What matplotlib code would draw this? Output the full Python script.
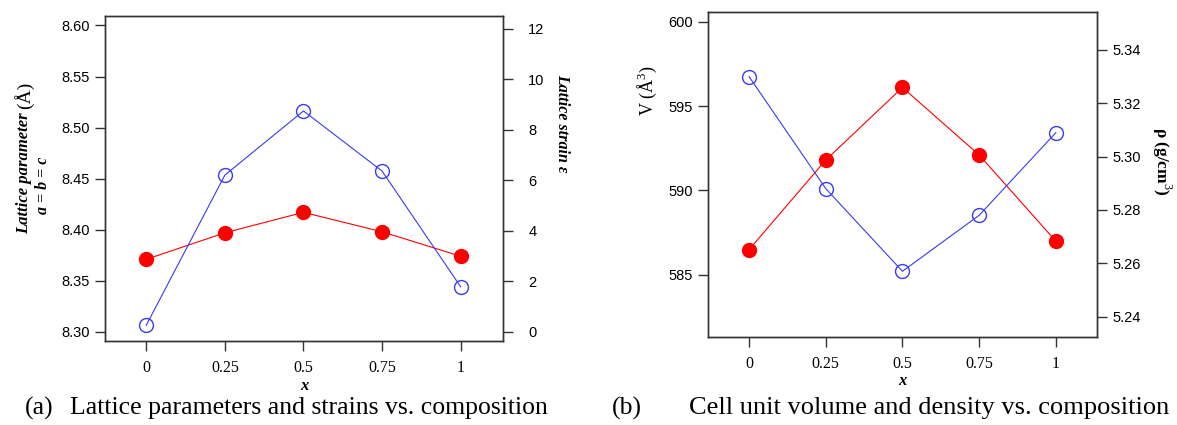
import matplotlib as mpl
mpl.use('Agg')
import matplotlib.pyplot as plt
import numpy as np

comp = [0, 0.25, 0.5, 0.75, 1]
comp_labels = ['0', '0.25', '0.5', '0.75', '1']
lattice = [8.371, 8.397, 8.417, 8.398, 8.374]
strain = [0.26, 6.2, 8.74, 6.36, 1.78]
volume = [586.5, 591.8, 596.1, 592.1, 587.0]
density = [5.330, 5.288, 5.257, 5.278, 5.309]

lat_ticks = [8.30, 8.35, 8.40, 8.45, 8.50, 8.55, 8.60]
strain_ticks = [0, 2, 4, 6, 8, 10, 12]
vol_ticks = [585, 590, 595, 600]
dens_ticks = [5.24, 5.26, 5.28, 5.30, 5.32, 5.34]

SANS = 'Liberation Sans'
SERIF = 'Liberation Serif'
RED = '#ff0000'
BLUE = '#3a3af0'
BOX = '#333333'

plt.rcParams['mathtext.fontset'] = 'custom'
plt.rcParams['mathtext.rm'] = SERIF

fig = plt.figure(figsize=(11.77, 4.25), dpi=100)


def style_axes(ax, ax2, left_ticks, right_ticks, lfmt, rfmt, rpad):
    ax.set_xticks(comp)
    ax.set_xticklabels(comp_labels, family=SERIF, fontsize=11.5)
    ax.set_yticks(left_ticks)
    ax.set_yticklabels([lfmt % t for t in left_ticks], family=SANS, fontsize=10.5)
    ax2.set_yticks(right_ticks)
    ax2.set_yticklabels([rfmt % t for t in right_ticks], family=SANS, fontsize=10.5)
    ax.tick_params(axis='x', length=7, width=1, pad=7, color=BOX)
    ax.tick_params(axis='y', length=7, width=1, pad=4, color=BOX)
    ax2.tick_params(axis='y', length=7, width=1, pad=rpad, color=BOX)
    for a in (ax, ax2):
        for s in a.spines.values():
            s.set_color(BOX)
            s.set_linewidth(1)


# (a) lattice parameter and strain
ax = fig.add_axes([0.0895, 0.198, 0.338, 0.764])
ax2 = ax.twinx()
ax.plot(comp, lattice, '-o', color=RED, lw=0.8, ms=10, mfc=RED, mec=RED)
ax2.plot(comp, strain, '-o', color=BLUE, lw=0.8, ms=10, mfc='none', mec=BLUE, mew=1)
ax.set_xlim(-0.13, 1.135)
ax.set_ylim(8.2912, 8.6091)
ax2.set_ylim(-0.356, 12.49)
style_axes(ax, ax2, lat_ticks, strain_ticks, '%.2f', '%d', 11)
ax.set_xlabel('x', family=SERIF, style='italic', weight='bold', fontsize=12, labelpad=1)

fig.text(0.0205, 0.592, 'Lattice parameter', rotation=90, ha='center', va='center',
         family=SERIF, style='italic', weight='bold', fontsize=12)
fig.text(0.0205, 0.776, '(Å)', rotation=90, ha='center', va='center',
         family=SERIF, fontsize=14)
fig.text(0.0365, 0.565, 'a = b = c', rotation=90, ha='center', va='center',
         family=SERIF, style='italic', weight='bold', fontsize=11.5)
fig.text(0.4775, 0.709, 'Lattice strain ε', rotation=270, ha='center', va='center',
         family=SERIF, style='italic', weight='bold', fontsize=11.5)

# (b) cell volume and density
bx = fig.add_axes([0.6015, 0.208, 0.3305, 0.7647])
bx2 = bx.twinx()
bx.plot(comp, volume, '-o', color=RED, lw=0.8, ms=10, mfc=RED, mec=RED)
bx2.plot(comp, density, '-o', color=BLUE, lw=0.8, ms=10, mfc='none', mec=BLUE, mew=1)
bx.set_xlim(-0.134, 1.134)
bx.set_ylim(581.35, 600.59)
bx2.set_ylim(5.2325, 5.3544)
style_axes(bx, bx2, vol_ticks, dens_ticks, '%d', '%.2f', 4)
bx.set_xlabel('x', family=SERIF, style='italic', weight='bold', fontsize=12, labelpad=1)

fig.text(0.5497, 0.786, 'V (Å$^3$)', rotation=90, ha='center', va='center',
         family=SERIF, fontsize=13)
fig.text(0.987, 0.62, 'ρ (g/cm$^3$)', rotation=270, ha='center', va='center',
         family=SERIF, weight='bold', fontsize=12.5)

# captions
fig.text(0.021, 0.04, '(a)', ha='left', va='center', family=SERIF, fontsize=18.5)
fig.text(0.0595, 0.04, 'Lattice parameters and strains vs. composition',
         ha='left', va='center', family=SERIF, fontsize=18.5)
fig.text(0.52, 0.04, '(b)', ha='left', va='center', family=SERIF, fontsize=18.5)
fig.text(0.585, 0.04, 'Cell unit volume and density vs. composition',
         ha='left', va='center', family=SERIF, fontsize=19)

fig.savefig('out.png', dpi=100)
